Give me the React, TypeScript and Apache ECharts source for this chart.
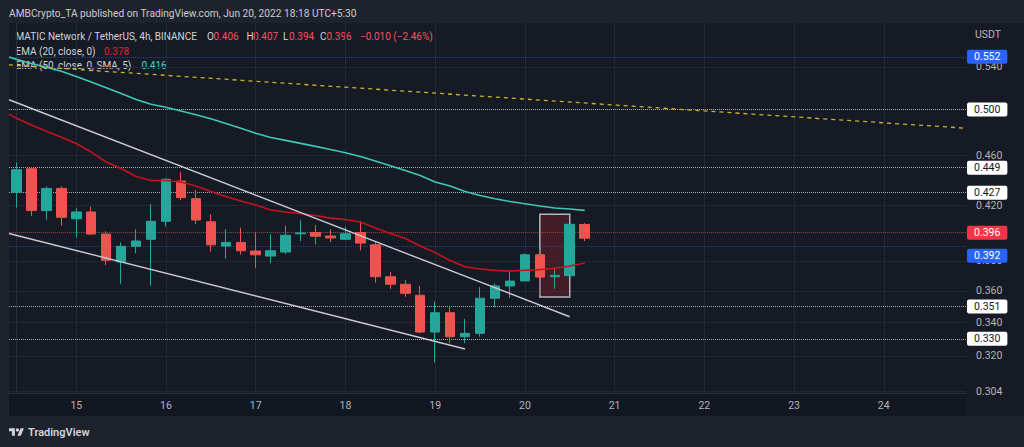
import React, { useEffect, useRef } from "react";
import * as echarts from "echarts";

// ---------- data ----------
const xDays = ["14", "15", "16", "17", "18", "19", "20", "21", "22", "23", "24"];
const xHours = ["00:00", "04:00", "08:00", "12:00", "16:00", "20:00"];
const categories: string[] = xDays.flatMap((d) => xHours.map((h) => `Jun ${d} ${h}`)).slice(2);

const opens = [0.4304, 0.4491, 0.4163, 0.4334, 0.4102, 0.4153, 0.399, 0.3793, 0.3902, 0.3952, 0.4083, 0.4392, 0.4254, 0.408, 0.3904, 0.393, 0.3869, 0.3834, 0.3862, 0.3992, 0.4001, 0.3976, 0.3952, 0.4001, 0.3913, 0.3693, 0.3643, 0.3571, 0.3341, 0.346, 0.3313, 0.3333, 0.3552, 0.3632, 0.3665, 0.3843, 0.3693, 0.37, 0.406];
const highs = [0.4543, 0.4503, 0.435, 0.435, 0.4183, 0.4193, 0.401, 0.393, 0.4024, 0.4214, 0.4413, 0.4465, 0.4321, 0.4135, 0.4026, 0.4036, 0.4002, 0.3988, 0.4049, 0.4093, 0.4056, 0.4024, 0.4044, 0.4086, 0.3932, 0.3723, 0.3673, 0.3632, 0.353, 0.3503, 0.3421, 0.3624, 0.3649, 0.3733, 0.3853, 0.3883, 0.3743, 0.4063, 0.407];
const lows = [0.4185, 0.4123, 0.4093, 0.4051, 0.3964, 0.3985, 0.3772, 0.3645, 0.3853, 0.3634, 0.4046, 0.4244, 0.4063, 0.3865, 0.3816, 0.3843, 0.3753, 0.3784, 0.3848, 0.394, 0.3916, 0.3932, 0.395, 0.3874, 0.3654, 0.3612, 0.3562, 0.3333, 0.3162, 0.3274, 0.3274, 0.3313, 0.3494, 0.3554, 0.3665, 0.3573, 0.3614, 0.3698, 0.394];
const closes = [0.4483, 0.4163, 0.4334, 0.4113, 0.4153, 0.399, 0.3805, 0.3902, 0.394, 0.4083, 0.4406, 0.4262, 0.4093, 0.3913, 0.393, 0.3871, 0.3843, 0.3871, 0.3981, 0.3998, 0.3974, 0.3962, 0.3992, 0.3925, 0.3693, 0.3643, 0.3584, 0.3341, 0.346, 0.3313, 0.3333, 0.3552, 0.3632, 0.3664, 0.3843, 0.3691, 0.3702, 0.4061, 0.396];

const ema20Edge = 0.4959;
const ema20 = [0.4922, 0.4862, 0.4807, 0.4754, 0.4701, 0.4629, 0.4546, 0.4493, 0.4428, 0.4396, 0.4396, 0.4384, 0.4353, 0.431, 0.4271, 0.4236, 0.4206, 0.4168, 0.4153, 0.4141, 0.4126, 0.4107, 0.4096, 0.4078, 0.4034, 0.3994, 0.3958, 0.3904, 0.3858, 0.3803, 0.376, 0.3745, 0.3736, 0.3731, 0.3737, 0.3741, 0.375, 0.3766, 0.3786];
const ema50Edge = 0.5499;
const ema50 = [0.5475, 0.5435, 0.5397, 0.5359, 0.5308, 0.5255, 0.5201, 0.5146, 0.5091, 0.5047, 0.502, 0.4987, 0.4952, 0.4916, 0.4874, 0.4832, 0.479, 0.4753, 0.4728, 0.4702, 0.4677, 0.465, 0.4623, 0.4592, 0.4554, 0.4516, 0.4477, 0.4437, 0.4384, 0.4353, 0.431, 0.4278, 0.4253, 0.4232, 0.4215, 0.4198, 0.4183, 0.4175, 0.4165];

const yTicks = ["0.540", "0.500", "0.460", "0.420", "0.400", "0.380", "0.360", "0.340", "0.320", "0.304"];
const levelLines = ["0.500", "0.449", "0.427", "0.351", "0.330"];
const blueLevelTop = "0.552";
const lastPrice = "0.396";
const blueLevelLow = "0.392";

const upperChannel = [[-0.5, 0.5089], [37, 0.3435]];
const lowerChannel = [[-0.5, 0.3994], [30, 0.324]];
const yellowRay = [[-0.5, 0.542], [63.5, 0.4833]];
const boxX = [35, 37];
const boxY = [0.4135, 0.356];

const headerText = "AMBCrypto_TA published on TradingView.com, Jun 20, 2022 18:18 UTC+5:30";
const symbolText = "MATIC Network / TetherUS, 4h, BINANCE";
const ohlcText = ["0.406", "0.407", "0.394", "0.396"];
const changeText = "\u22120.010 (\u22122.46%)";
const ema20Text = "EMA (20, close, 0)";
const ema20Value = "0.378";
const ema50Text = "EMA (50, close, 0, SMA, 5)";
const ema50Value = "0.416";

// ---------- styles ----------
const FONT = "Roboto, 'Noto Sans', sans-serif";
const GREEN = "#26a69a";
const RED = "#ef5350";
const AXIS_TXT = "#b2b5be";
const LEG_TXT = "#d1d4dc";

let registered = false;
function registerLogo() {
  if (registered) return;
  registered = true;
  const d = "M14 22H7V11H0V4h14v18zM28 22h-8l7.5-18h8L28 22zM24 8a4 4 0 1 1 -8 0a4 4 0 1 1 8 0z";
  echarts.graphic.registerShape("tvlogo", echarts.graphic.extendPath(d, {}) as any);
}

export default function App() {
  const ref = useRef<HTMLDivElement>(null);
  useEffect(() => {
    if (!ref.current) return;
    registerLogo();
    const chart = echarts.init(ref.current, undefined, { renderer: "svg" });

    const candleData = opens.map((o, i) => [o, closes[i], lows[i], highs[i]]);
    const dayIdx = categories.map((c, i) => (c.endsWith("00:00") ? i : -1)).filter((i) => i >= 0);

    const legendText = (x: number, y: number, text: string, fill: string, size = 10) => ({
      type: "text",
      x,
      y,
      silent: true,
      style: { text, fill, font: `${size}px ${FONT}`, textVerticalAlign: "middle", verticalAlign: "middle" },
    });

    const boxLabel = (bg: string, fg: string, text: string, offsetY = 0) => ({
      show: true,
      position: "end",
      distance: 1,
      backgroundColor: bg,
      color: fg,
      fontSize: 10.5,
      fontFamily: FONT,
      padding: [2, 7, 1, 7],
      lineHeight: 11,
      borderRadius: 2,
      offset: [0, offsetY],
      formatter: text,
    });

    const option: any = {
      animation: false,
      backgroundColor: "#1e222d",
      textStyle: { fontFamily: FONT },
      grid: { left: 9, right: 58, top: 23, bottom: 54, outerBoundsMode: "none", containLabel: false },
      xAxis: [
        {
          type: "category",
          data: categories,
          boundaryGap: true,
          axisLine: { show: true, lineStyle: { color: "#2a2e39" } },
          axisTick: { show: false },
          splitLine: { show: false },
          axisLabel: {
            interval: (_i: number, v: string) => v.endsWith("00:00"),
            formatter: (v: string) => v.split(" ")[1],
            color: AXIS_TXT,
            fontSize: 10.5,
            margin: 7,
          },
        },
        { type: "value", min: -0.5, max: 63.5, show: false },
      ],
      yAxis: {
        type: "log",
        logBase: 10,
        min: 0.29917,
        max: 0.5848,
        position: "right",
        axisLine: { show: true, lineStyle: { color: "#2a2e39" } },
        axisTick: { show: false },
        axisLabel: { show: false },
        splitLine: { show: false },
      },
      graphic: [
        { type: "rect", z: -10, silent: true, shape: { x: 9, y: 23, width: 1015, height: 393 }, style: { fill: "#161a25" } },
        { type: "rect", z: -9, silent: true, shape: { x: 9, y: 394, width: 957, height: 22 }, style: { fill: "#131722" } },
        legendText(9, 13.5, headerText, "#c9ccd4", 10.2),
        legendText(15.5, 36, symbolText, LEG_TXT),
        legendText(207, 36, "O", LEG_TXT),
        legendText(213.5, 36, ohlcText[0], "#f7525f"),
        legendText(246.5, 36, "H", LEG_TXT),
        legendText(253, 36, ohlcText[1], "#f7525f"),
        legendText(283, 36, "L", LEG_TXT),
        legendText(289, 36, ohlcText[2], "#f7525f"),
        legendText(320, 36, "C", LEG_TXT),
        legendText(326.5, 36, ohlcText[3], "#f7525f"),
        legendText(360, 36, changeText, "#f7525f"),
        legendText(15.5, 51, ema20Text, LEG_TXT),
        legendText(104, 51, ema20Value, "#e3242e"),
        legendText(15.5, 65, ema50Text, LEG_TXT),
        legendText(141.5, 65, ema50Value, "#4fd6c6"),
        {
          type: "text",
          x: 988,
          y: 34,
          silent: true,
          style: { text: "USDT", fill: AXIS_TXT, font: `10.5px ${FONT}`, textAlign: "center", align: "center", verticalAlign: "middle", textVerticalAlign: "middle" },
        },
        { type: "tvlogo", x: 9, y: 426.6, scaleX: 0.42, scaleY: 0.42, silent: true, style: { fill: "#d1d4dc" } },
        {
          type: "text",
          x: 28,
          y: 432,
          silent: true,
          style: { text: "TradingView", fill: "#d1d4dc", font: `600 11px ${FONT}`, verticalAlign: "middle", textVerticalAlign: "middle" },
        },
      ],
      series: [
        {
          name: "grid",
          type: "line",
          xAxisIndex: 1,
          yAxisIndex: 0,
          data: [],
          silent: true,
          markLine: {
            silent: true,
            symbol: "none",
            z: 1,
            animation: false,
            data: [
              ...yTicks.map((t) => ({
                yAxis: Number(t),
                lineStyle: { color: "#232733", width: 1, type: "solid" },
                label: { show: true, position: "end", distance: 10, color: AXIS_TXT, fontSize: 10.5, fontFamily: FONT, formatter: t },
              })),
              ...dayIdx.map((i) => ({
                xAxis: i,
                lineStyle: { color: "#232733", width: 1, type: "solid" },
                label: { show: false },
              })),
            ],
          },
        },
        {
          name: "levels",
          type: "line",
          xAxisIndex: 1,
          yAxisIndex: 0,
          data: [],
          silent: true,
          markArea: {
            silent: true,
            z: 2,
            itemStyle: { color: "rgba(110,32,44,0.5)", borderColor: "#b4b6bd", borderWidth: 1.5 },
            data: [[{ coord: [boxX[0], boxY[0]] }, { coord: [boxX[1], boxY[1]] }]],
          },
          markLine: {
            silent: true,
            symbol: "none",
            z: 2,
            animation: false,
            data: [
              ...levelLines.map((t) => ({
                yAxis: Number(t),
                lineStyle: { color: "#a3a6af", width: 1, type: "dotted" },
                label: boxLabel("#ffffff", "#131722", t),
              })),
              { yAxis: Number(blueLevelTop), lineStyle: { color: "rgba(41,98,255,0.55)", width: 1, type: "dotted" }, label: boxLabel("#2962ff", "#ffffff", blueLevelTop) },
              { yAxis: Number(lastPrice), lineStyle: { color: "rgba(239,83,80,0.5)", width: 1, type: "dotted" }, label: boxLabel("#f23645", "#ffffff", lastPrice) },
              { yAxis: Number(blueLevelLow), lineStyle: { color: "rgba(41,98,255,0.5)", width: 1, type: "dotted" }, label: boxLabel("#2962ff", "#ffffff", blueLevelLow, 9) },
            ],
          },
        },
        {
          name: "MATICUSDT",
          type: "candlestick",
          xAxisIndex: 0,
          yAxisIndex: 0,
          z: 3,
          barWidth: 10,
          data: candleData,
          itemStyle: { color: GREEN, color0: RED, borderColor: GREEN, borderColor0: RED, borderWidth: 1 },
        },
        {
          name: "EMA20",
          type: "line",
          xAxisIndex: 1,
          yAxisIndex: 0,
          z: 4,
          showSymbol: false,
          data: [[-0.5, ema20Edge], ...ema20.map((v, i) => [i, v])],
          lineStyle: { color: "#c4141c", width: 1.6 },
        },
        {
          name: "EMA50",
          type: "line",
          xAxisIndex: 1,
          yAxisIndex: 0,
          z: 4,
          showSymbol: false,
          data: [[-0.5, ema50Edge], ...ema50.map((v, i) => [i, v])],
          lineStyle: { color: "#3cc9b6", width: 1.6 },
        },
        {
          name: "upper",
          type: "line",
          xAxisIndex: 1,
          yAxisIndex: 0,
          z: 4,
          showSymbol: false,
          data: upperChannel,
          lineStyle: { color: "#c8cad1", width: 1.4 },
        },
        {
          name: "lower",
          type: "line",
          xAxisIndex: 1,
          yAxisIndex: 0,
          z: 4,
          showSymbol: false,
          data: lowerChannel,
          lineStyle: { color: "#c8cad1", width: 1.4 },
        },
        {
          name: "ray",
          type: "line",
          xAxisIndex: 1,
          yAxisIndex: 0,
          z: 4,
          showSymbol: false,
          data: yellowRay,
          lineStyle: { color: "#c9b22c", width: 1.3, type: [4, 4] },
        },
      ],
    };
    chart.setOption(option);
    return () => chart.dispose();
  }, []);
  return <div ref={ref} style={{ position: "fixed", left: 0, top: 0, width: 1024, height: 447 }} />;
}
